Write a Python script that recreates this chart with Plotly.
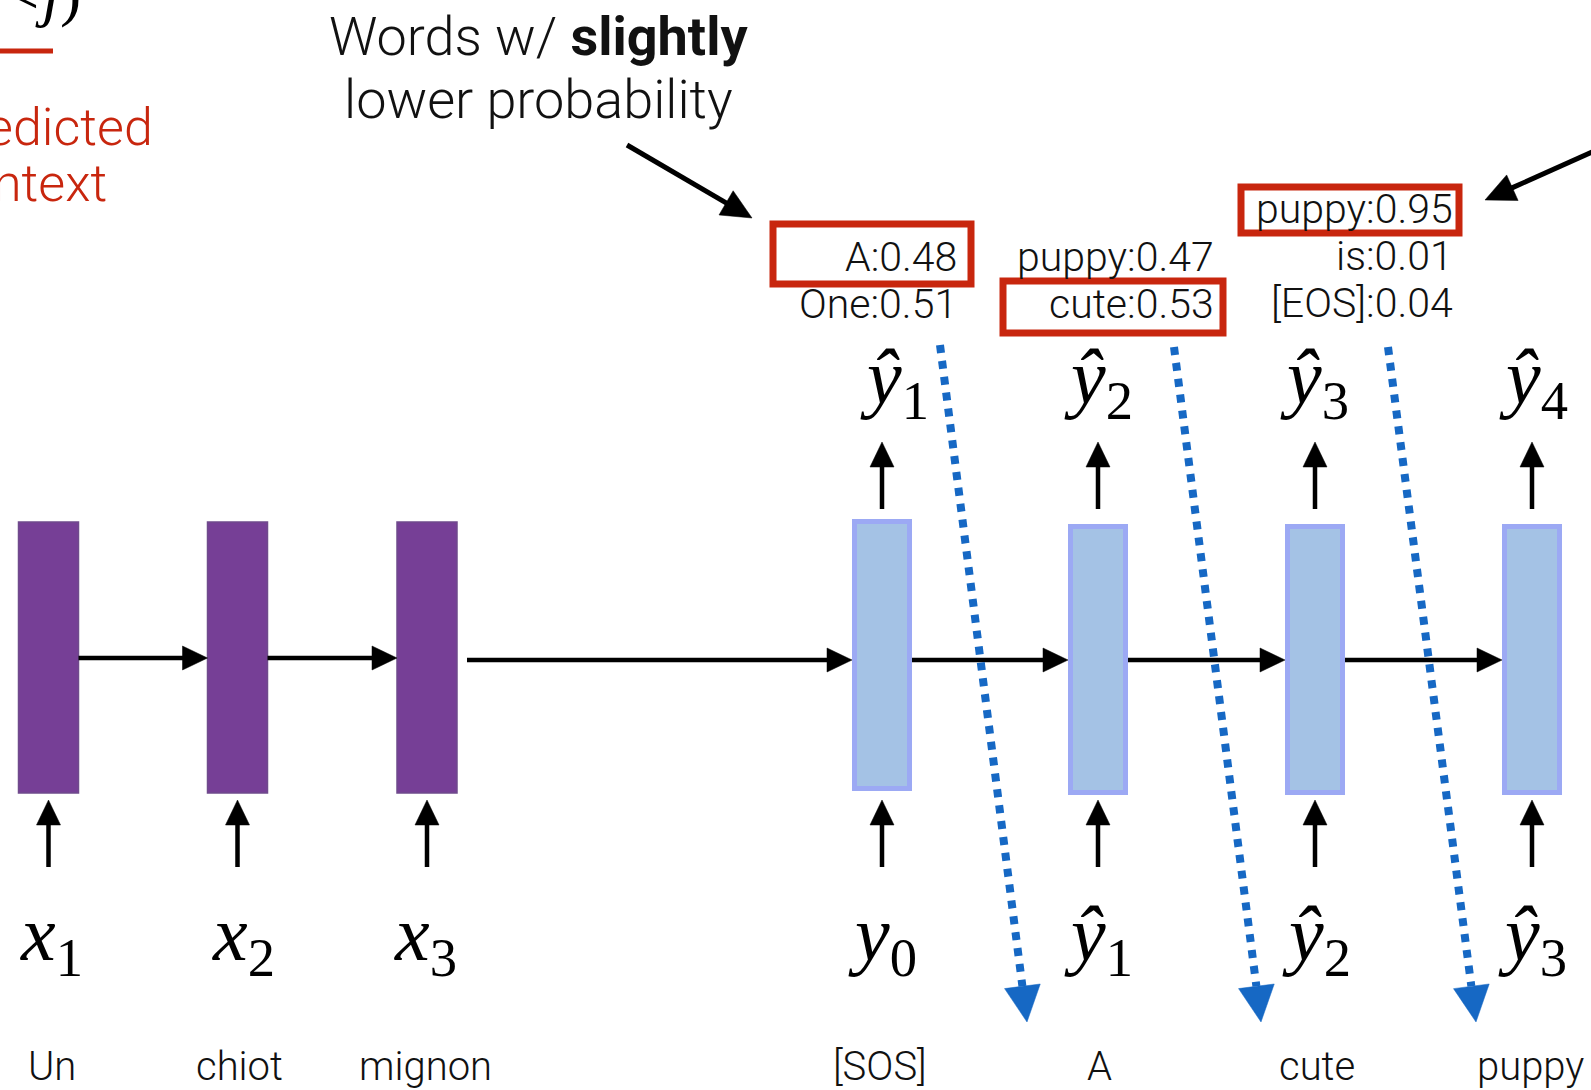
import math
import plotly.graph_objects as go

# ---------------- data ----------------
source_words = ["Un", "chiot", "mignon"]
source_symbols = ["<i>x</i><sub>1</sub>", "<i>x</i><sub>2</sub>", "<i>x</i><sub>3</sub>"]
decoder_inputs = ["[SOS]", "A", "cute", "puppy"]
decoder_in_symbols = ["<i>y</i><sub>0</sub>", "<i>ŷ</i><sub>1</sub>", "<i>ŷ</i><sub>2</sub>", "<i>ŷ</i><sub>3</sub>"]
decoder_out_symbols = ["<i>ŷ</i><sub>1</sub>", "<i>ŷ</i><sub>2</sub>", "<i>ŷ</i><sub>3</sub>", "<i>ŷ</i><sub>4</sub>"]

step1_words = ["A", "One"]
step1_probs = [0.48, 0.51]
step2_words = ["puppy", "cute"]
step2_probs = [0.47, 0.53]
step3_words = ["puppy", "is", "[EOS]"]
step3_probs = [0.95, 0.01, 0.04]
chosen_words = ["A", "cute", "puppy"]

callout_lines = ["Words w/ <b>slightly</b>", "lower probability"]
side_lines = ["Predicted", "context"]

# ---------------- layout geometry (pixels) ----------------
W, H = 1591, 1090
ENC_X = [48.5, 237.5, 427]
DEC_X = [882, 1098, 1315, 1532]
BAR_W = 60
ENC_Y = (522, 793)
DEC_Y = [(519, 791), (524, 795), (524, 795), (524, 795)]
ENC_ARROW_Y = 658
DEC_ARROW_Y = 660
LOW_ARROW = (867, 800)
UP_ARROW = (509, 442)
TOP_SYM_Y = 382
TOP_SYM_X = [894, 1098, 1314, 1533]
BOT_SYM_Y = 939
ENC_SYM_X = [51, 243, 425]
DEC_SYM_X = [882, 1098, 1316, 1532]
WORD_Y = 1066
ENC_WORD_X = [52, 239, 425]
DEC_WORD_X = [880, 1099, 1317, 1530]

PROB_RIGHT = [959, 1216, 1455]
PROB_CENTERS = [[257, 304], [257, 304], [209, 256, 303]]
BOXES = [(773, 224, 971, 284), (1003, 281, 1223, 333), (1241, 187, 1459, 233)]
BLUE_LINES = [((940, 345), (1027, 1022)), ((1174, 347), (1261, 1022)), ((1388, 347), (1476, 1022))]
BLACK_POINTERS = [((627, 145), (752, 218)), ((1630, 135), (1485, 200))]

PURPLE = "#763F96"
PURPLE_EDGE = "#6F4B8C"
BLUE_FILL = "#A4C2E5"
BLUE_EDGE = "#9CA9F4"
RED = "#C8260E"
DOT_BLUE = "#1668C4"
SANS = "Roboto"
SERIF = "Liberation Serif"

fig = go.Figure()
shapes = []
annotations = []


def arrow(x0, y0, x1, y1, color, width, head_len, head_w, layer="below"):
    dx, dy = x1 - x0, y1 - y0
    L = math.hypot(dx, dy)
    ux, uy = dx / L, dy / L
    bx, by = x1 - ux * head_len, y1 - uy * head_len
    px, py = -uy, ux
    shapes.append(dict(type="line", xref="x", yref="y", x0=x0, y0=y0,
                       x1=bx + ux * 1, y1=by + uy * 1,
                       line=dict(color=color, width=width), layer=layer))
    path = (f"M{x1},{y1} L{bx + px * head_w / 2},{by + py * head_w / 2} "
            f"L{bx - px * head_w / 2},{by - py * head_w / 2} Z")
    shapes.append(dict(type="path", xref="x", yref="y", path=path,
                       fillcolor=color, line=dict(color=color, width=0.5), layer=layer))


# encoder bars
for cx in ENC_X:
    shapes.append(dict(type="rect", xref="x", yref="y",
                       x0=cx - BAR_W / 2, x1=cx + BAR_W / 2, y0=ENC_Y[0], y1=ENC_Y[1],
                       fillcolor=PURPLE, line=dict(color=PURPLE_EDGE, width=1.5), layer="below"))
# decoder bars
for cx, (y0, y1) in zip(DEC_X, DEC_Y):
    shapes.append(dict(type="rect", xref="x", yref="y",
                       x0=cx - BAR_W / 2 + 2.5, x1=cx + BAR_W / 2 - 2.5, y0=y0 + 2.5, y1=y1 - 2.5,
                       fillcolor=BLUE_FILL, line=dict(color=BLUE_EDGE, width=5), layer="below"))

# horizontal recurrent arrows
for a, b in zip(ENC_X[:-1], ENC_X[1:]):
    arrow(a + BAR_W / 2, ENC_ARROW_Y, b - BAR_W / 2, ENC_ARROW_Y, "black", 4.5, 25, 24)
arrow(ENC_X[-1] + BAR_W / 2 + 10, DEC_ARROW_Y, DEC_X[0] - BAR_W / 2, DEC_ARROW_Y, "black", 4.5, 25, 24)
for a, b in zip(DEC_X[:-1], DEC_X[1:]):
    arrow(a + BAR_W / 2, DEC_ARROW_Y, b - BAR_W / 2, DEC_ARROW_Y, "black", 4.5, 25, 24)

# vertical input arrows
for cx in ENC_X + DEC_X:
    arrow(cx, LOW_ARROW[0], cx, LOW_ARROW[1], "black", 4.5, 25, 24)
# vertical output arrows
for cx in DEC_X:
    arrow(cx, UP_ARROW[0], cx, UP_ARROW[1], "black", 4.5, 25, 24)

# pointer arrows from callouts
for (p0, p1) in BLACK_POINTERS:
    arrow(p0[0], p0[1], p1[0], p1[1], "black", 5, 30, 28)

# blue dotted feedback arrows
for (p0, p1) in BLUE_LINES:
    dx, dy = p1[0] - p0[0], p1[1] - p0[1]
    L = math.hypot(dx, dy)
    ux, uy = dx / L, dy / L
    hl, hw = 36, 36
    bx, by = p1[0] - ux * hl, p1[1] - uy * hl
    fig.add_trace(go.Scatter(x=[p0[0], bx], y=[p0[1], by], mode="lines",
                             line=dict(color=DOT_BLUE, width=8, dash="8px,8px"),
                             hoverinfo="skip", showlegend=False))
    px, py = -uy, ux
    shapes.append(dict(type="path", xref="x", yref="y",
                       path=(f"M{p1[0]},{p1[1]} L{bx + px * hw / 2},{by + py * hw / 2} "
                             f"L{bx - px * hw / 2},{by - py * hw / 2} Z"),
                       fillcolor=DOT_BLUE, line=dict(color=DOT_BLUE, width=0.5), layer="above"))

# red highlight boxes
for (x0, y0, x1, y1) in BOXES:
    shapes.append(dict(type="rect", xref="x", yref="y", x0=x0, y0=y0, x1=x1, y1=y1,
                       fillcolor="rgba(0,0,0,0)", line=dict(color=RED, width=7), layer="above"))

# red partial legend line
shapes.append(dict(type="line", xref="x", yref="y", x0=0, x1=53, y0=51, y1=51,
                   line=dict(color=RED, width=5), layer="above"))


def txt(x, y, text, size, family=SANS, color="#111111", xanchor="center", weight=300, paper=False):
    if paper:
        ref_x, ref_y, xx, yy = "paper", "paper", x / W, 1 - y / H
    else:
        ref_x, ref_y, xx, yy = "x", "y", x, y
    annotations.append(dict(x=xx, y=yy, xref=ref_x, yref=ref_y, text=text, showarrow=False,
                            xanchor=xanchor, yanchor="middle",
                            font=dict(family=family, size=size, color=color, weight=weight)))


# words under inputs
for x, w in zip(ENC_WORD_X, source_words):
    txt(x, WORD_Y, w, 40)
for x, w in zip(DEC_WORD_X, decoder_inputs):
    txt(x, WORD_Y, w, 40)

# math symbols
for x, s in zip(ENC_SYM_X, source_symbols):
    txt(x, BOT_SYM_Y, s, 78, family=SERIF, color="black", weight=400)
for x, s in zip(DEC_SYM_X, decoder_in_symbols):
    txt(x, BOT_SYM_Y, s, 78, family=SERIF, color="black", weight=400)
for x, s in zip(TOP_SYM_X, decoder_out_symbols):
    txt(x, TOP_SYM_Y, s, 78, family=SERIF, color="black", weight=400)

# candidate probabilities
steps = [(step1_words, step1_probs), (step2_words, step2_probs), (step3_words, step3_probs)]
for right, ys, (words, probs) in zip(PROB_RIGHT, PROB_CENTERS, steps):
    for y, w, p in zip(ys, words, probs):
        txt(right, y, f"{w}:{p:.2f}", 41, xanchor="right")

# callout text
txt(538, 36, callout_lines[0], 54)
txt(538, 99, callout_lines[1], 54)

# partially visible side label (cut at left edge)
txt(-65, 127, side_lines[0], 52, color=RED, xanchor="left", paper=True)
txt(-65, 183, side_lines[1], 52, color=RED, xanchor="left", paper=True)
txt(40, -8, "<i>&lt;j</i>)", 64, family=SERIF, color="black", weight=400, paper=True)

fig.update_layout(
    width=W, height=H,
    margin=dict(l=0, r=0, t=0, b=0),
    paper_bgcolor="white", plot_bgcolor="white",
    xaxis=dict(range=[0, W], visible=False, fixedrange=True),
    yaxis=dict(range=[H, 0], visible=False, fixedrange=True),
    shapes=shapes, annotations=annotations,
    showlegend=False,
)

fig.write_html("out.html", config={"displayModeBar": False},
               post_script="document.body.style.margin='0';document.body.style.overflow='hidden';")
